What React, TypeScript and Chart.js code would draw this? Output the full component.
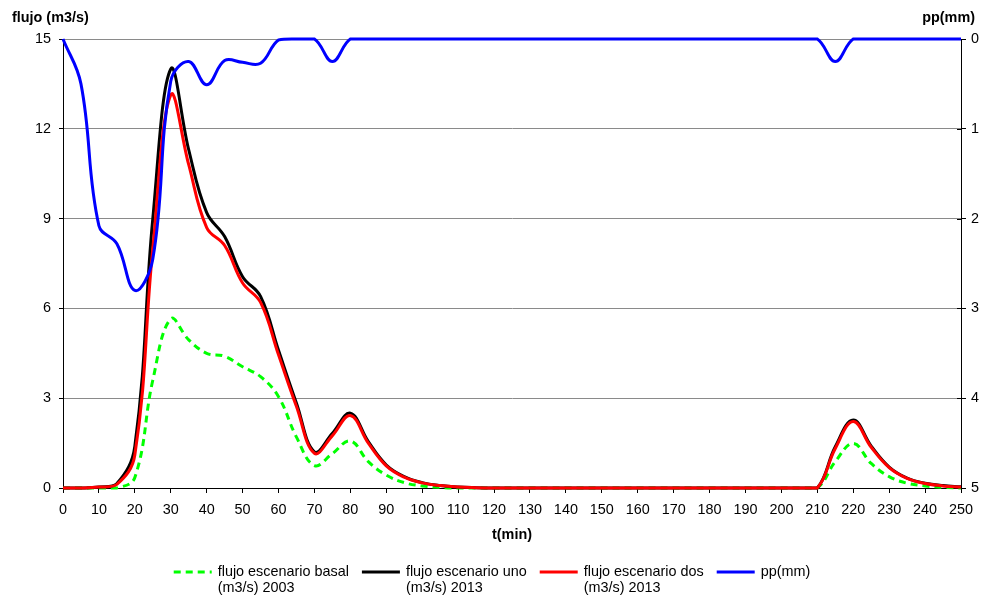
import React, { useEffect, useRef } from 'react';
import { Chart, registerables } from 'chart.js';

Chart.register(...registerables);

// time (min)
const times = [
  0, 5, 10, 15, 20, 25, 30, 35, 40, 45, 50, 55, 60, 65, 70, 75, 80, 85, 90, 95,
  100, 105, 110, 115, 120, 125, 130, 135, 140, 145, 150, 155, 160, 165, 170, 175, 180, 185, 190, 195,
  200, 205, 210, 215, 220, 225, 230, 235, 240, 245, 250,
];

// flujo escenario basal (m3/s) 2003
const flujoBasal = [
  0, 0, 0, 0, 0.35, 3.6, 5.65, 4.95, 4.5, 4.4, 4.05, 3.72, 3.05, 1.7, 0.75, 1.15, 1.57, 0.88, 0.43, 0.18,
  0.07, 0.02, 0, 0, 0, 0, 0, 0, 0, 0, 0, 0, 0, 0, 0, 0, 0, 0, 0, 0,
  0, 0, 0, 0.88, 1.49, 0.82, 0.38, 0.16, 0.07, 0.02, 0,
];

// flujo escenario uno (m3/s) 2013
const flujoUno = [
  0, 0, 0.03, 0.15, 1.4, 9.0, 14.0, 11.3, 9.2, 8.4, 7.06, 6.4, 4.6, 2.83, 1.21, 1.83, 2.5, 1.55, 0.77, 0.38,
  0.18, 0.08, 0.03, 0.01, 0, 0, 0, 0, 0, 0, 0, 0, 0, 0, 0, 0, 0, 0, 0, 0,
  0, 0, 0, 1.38, 2.27, 1.4, 0.7, 0.33, 0.16, 0.08, 0.04,
];

// flujo escenario dos (m3/s) 2013
const flujoDos = [
  0, 0, 0.03, 0.12, 1.1, 8.0, 13.13, 10.8, 8.7, 8.1, 6.85, 6.2, 4.45, 2.72, 1.16, 1.75, 2.42, 1.5, 0.74, 0.36,
  0.17, 0.08, 0.03, 0.01, 0, 0, 0, 0, 0, 0, 0, 0, 0, 0, 0, 0, 0, 0, 0, 0,
  0, 0, 0, 1.32, 2.22, 1.36, 0.68, 0.32, 0.15, 0.07, 0.03,
];

// pp (mm)
const ppMm = [
  0, 0.5, 2.08, 2.28, 2.8, 2.45, 0.47, 0.25, 0.51, 0.24, 0.26, 0.27, 0.01, 0, 0, 0.25, 0, 0, 0, 0,
  0, 0, 0, 0, 0, 0, 0, 0, 0, 0, 0, 0, 0, 0, 0, 0, 0, 0, 0, 0,
  0, 0, 0, 0.25, 0, 0, 0, 0, 0, 0, 0,
];

const seriesNames: string[][] = [
  ['flujo escenario basal', '(m3/s) 2003'],
  ['flujo escenario uno', '(m3/s) 2013'],
  ['flujo escenario dos', '(m3/s) 2013'],
  ['pp(mm)'],
];

const leftTitle = 'flujo (m3/s)';
const rightTitle = 'pp(mm)';
const xTitle = 't(min)';

const xMin = 0;
const xMax = 250;
const xStep = 10;
const leftMax = 15;
const leftStep = 3;
const rightMax = 5;
const rightStep = 1;

const FONT = '"Liberation Sans", Arial, sans-serif';
const FS = 14.4;

const toPts = (vals: number[]) => times.map((t, i) => ({ x: t, y: vals[i] }));

const extrasPlugin = {
  id: 'extras',
  beforeDatasetsDraw(chart: any) {
    const { ctx, chartArea } = chart;
    const s = chart.scales.y2;
    ctx.save();
    ctx.strokeStyle = '#000';
    ctx.lineWidth = 1;
    for (let v = 0; v <= rightMax; v += rightStep) {
      const y = Math.round(s.getPixelForValue(v)) + 0.5;
      ctx.beginPath();
      ctx.moveTo(chartArea.right - 4, y);
      ctx.lineTo(chartArea.right, y);
      ctx.stroke();
    }
    ctx.restore();
  },
  afterDraw(chart: any) {
    const ctx = chart.ctx;
    ctx.save();
    ctx.fillStyle = '#000';
    ctx.textBaseline = 'middle';
    ctx.font = `bold ${FS}px ${FONT}`;
    ctx.textAlign = 'left';
    ctx.fillText(leftTitle, 12, 18);
    ctx.textAlign = 'right';
    ctx.fillText(rightTitle, 975, 18);

    // legend
    ctx.font = `${FS}px ${FONT}`;
    ctx.textAlign = 'left';
    const lineLen = 38;
    const gap = 6;
    const itemGap = 13;
    const items = chart.data.datasets.map((ds: any, i: number) => {
      const lines = seriesNames[i];
      const tw = Math.max(...lines.map((l) => ctx.measureText(l).width));
      return { ds, lines, w: lineLen + gap + tw };
    });
    const total = items.reduce((a: number, it: any) => a + it.w, 0) + itemGap * (items.length - 1);
    let x = chart.width / 2 - total / 2;
    const y0 = 572;
    const lh = 16;
    items.forEach((it: any) => {
      ctx.strokeStyle = it.ds.borderColor;
      ctx.lineWidth = 3;
      ctx.setLineDash(it.ds.borderDash || []);
      ctx.beginPath();
      ctx.moveTo(x, y0);
      ctx.lineTo(x + lineLen, y0);
      ctx.stroke();
      ctx.setLineDash([]);
      it.lines.forEach((l: string, k: number) => ctx.fillText(l, x + lineLen + gap, y0 + k * lh));
      x += it.w + itemGap;
    });
    ctx.restore();
  },
};

export default function App() {
  const ref = useRef<HTMLCanvasElement | null>(null);

  useEffect(() => {
    if (!ref.current) return;
    const clip = { left: 3, top: 3, right: 3, bottom: 2 };
    const tickFont = { family: FONT, size: FS, lineHeight: 1.2 };
    const chart = new Chart(ref.current, {
      type: 'line',
      data: {
        datasets: [
          {
            label: seriesNames[0].join(' '),
            data: toPts(flujoBasal),
            borderColor: '#00ff00',
            borderDash: [7, 5],
            borderWidth: 3,
            yAxisID: 'y',
            order: 4,
            clip,
          },
          {
            label: seriesNames[1].join(' '),
            data: toPts(flujoUno),
            borderColor: '#000000',
            borderWidth: 3,
            yAxisID: 'y',
            order: 3,
            clip,
          },
          {
            label: seriesNames[2].join(' '),
            data: toPts(flujoDos),
            borderColor: '#ff0000',
            borderWidth: 3,
            yAxisID: 'y',
            order: 2,
            clip,
          },
          {
            label: seriesNames[3].join(' '),
            data: toPts(ppMm),
            borderColor: '#0000ff',
            borderWidth: 3,
            yAxisID: 'y2',
            order: 1,
            clip,
          },
        ] as any,
      },
      options: {
        responsive: false,
        animation: false,
        layout: { padding: { top: 39, left: 0, right: 0, bottom: 55 } },
        plugins: { legend: { display: false }, tooltip: { enabled: false } },
        elements: { point: { radius: 0 }, line: { tension: 0.4, fill: false } },
        scales: {
          x: {
            type: 'linear',
            min: xMin,
            max: xMax,
            ticks: { stepSize: xStep, color: '#000', font: tickFont, padding: 8, maxRotation: 0, autoSkip: false },
            grid: { drawOnChartArea: false, tickLength: 5, color: '#000' },
            border: { color: '#000', width: 1 },
            title: { display: true, text: xTitle, color: '#000', font: { family: FONT, size: FS, weight: 'bold', lineHeight: 1 }, padding: 0 },
            afterFit: (s: any) => { s.height = 54; },
          },
          y: {
            position: 'left',
            min: 0,
            max: leftMax,
            ticks: { stepSize: leftStep, color: '#000', font: tickFont, padding: 8 },
            grid: {
              color: (c: any) => (c.tick && c.tick.value === 0 ? 'rgba(0,0,0,0)' : '#8a8a8a'),
              tickColor: '#000',
              tickLength: 4,
            },
            border: { color: '#000', width: 1 },
            afterFit: (s: any) => { s.width = 63; },
          },
          y2: {
            position: 'right',
            min: 0,
            max: rightMax,
            reverse: true,
            ticks: { stepSize: rightStep, color: '#000', font: tickFont, padding: 5 },
            grid: { drawOnChartArea: false, tickLength: 5, color: '#000' },
            border: { color: '#000', width: 1 },
            afterFit: (s: any) => { s.width = 23; },
          },
        },
      } as any,
      plugins: [extrasPlugin],
    });
    return () => chart.destroy();
  }, []);

  return (
    <div style={{ position: 'absolute', left: 0, top: 0, width: 984, height: 597, background: '#fff' }}>
      <canvas ref={ref} width={984} height={597} />
    </div>
  );
}
